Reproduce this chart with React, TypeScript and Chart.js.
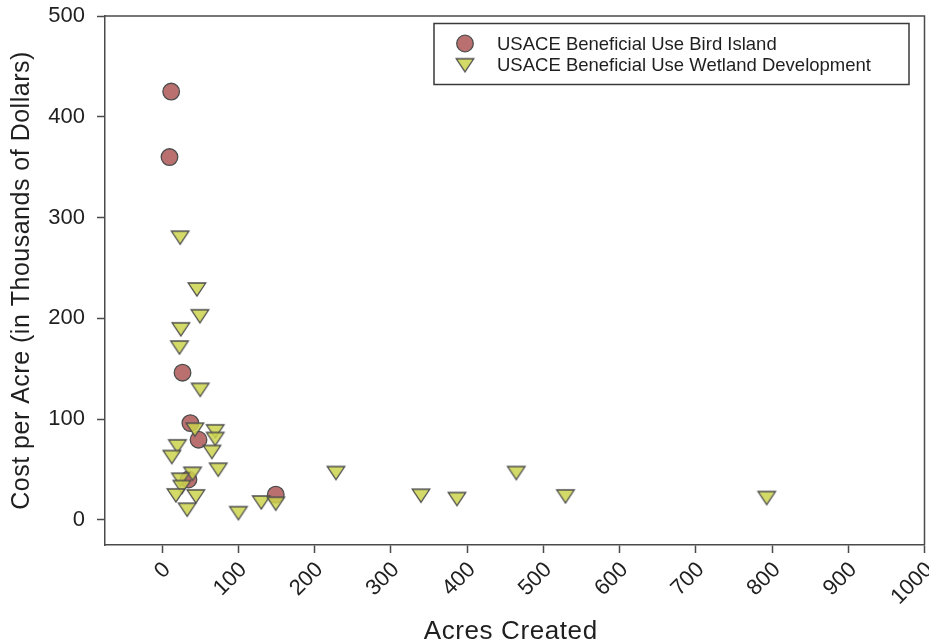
import { useEffect, useRef } from 'react';
import { Chart, registerables } from 'chart.js';

Chart.register(...registerables);

// Bird island placements: acres created vs. cost per acre (thousands of dollars)
const birdIslandAcres = [11.8, 9.6, 26.7, 37, 47.7, 34.5, 149];
const birdIslandCost = [425, 360, 146, 96, 79.5, 40, 25];

// Wetland development placements
const wetlandAcres = [
  23.6, 45.6, 49.5, 24.5, 22.7, 49.9, 42.9, 69.6, 69.6, 20, 12.7, 65.2, 73.5, 39.8,
  24, 25.8, 18, 44.2, 32.8, 100, 130, 149, 228, 339.5, 386.7, 464.5, 529, 793,
];
const wetlandCost = [
  280, 228.6, 202, 189, 171, 129, 89.5, 87.8, 80.2, 72.9, 62.3, 67.3, 49.7, 45.7,
  39.8, 32.5, 24.2, 23.2, 10, 6.6, 17.2, 16, 46.4, 23.9, 20.6, 46.4, 23.2, 21.6,
];

const xTickValues = [0, 100, 200, 300, 400, 500, 600, 700, 800, 900, 1000];
const yTickValues = [0, 100, 200, 300, 400, 500];

const seriesLabels = [
  'USACE Beneficial Use Bird Island',
  'USACE Beneficial Use Wetland Development',
];
const xAxisTitle = 'Acres Created';
const yAxisTitle = 'Cost per Acre (in Thousands of Dollars)';

const FONT = "'Liberation Sans', Arial, Helvetica, sans-serif";
const TEXT = '#1f1f1f';
const AXIS = '#4a4a4a';
const MARK_EDGE = '#4d4d4d';
const CIRCLE_FILL = 'rgba(178, 92, 92, 0.88)';
const TRI_FILL = 'rgba(204, 212, 76, 0.85)';

const NO_PADDING = () => ({ left: 0, top: 0, right: 0, bottom: 0 });

function makeDownTriangle(w: number, h: number, fill: string, stroke: string, lw: number) {
  const pad = 2;
  const c = document.createElement('canvas');
  c.width = Math.ceil(w + pad * 2);
  c.height = Math.ceil(h + pad * 2);
  const ctx = c.getContext('2d')!;
  const ox = (c.width - w) / 2;
  const oy = (c.height - h) / 2;
  ctx.beginPath();
  ctx.moveTo(ox, oy);
  ctx.lineTo(ox + w, oy);
  ctx.lineTo(ox + w / 2, oy + h);
  ctx.closePath();
  ctx.fillStyle = fill;
  ctx.fill();
  ctx.lineWidth = lw;
  ctx.lineJoin = 'miter';
  ctx.strokeStyle = stroke;
  ctx.stroke();
  return c;
}

export default function App() {
  const canvasRef = useRef<HTMLCanvasElement | null>(null);

  useEffect(() => {
    document.body.style.margin = '0';
    const canvas = canvasRef.current;
    if (!canvas) return;

    const triangle = makeDownTriangle(17.5, 13, TRI_FILL, MARK_EDGE, 1.3);

    const frame = {
      id: 'frame',
      afterDatasetsDraw(chart: any) {
        const { ctx, chartArea } = chart;
        ctx.save();
        ctx.strokeStyle = AXIS;
        ctx.lineWidth = 1.5;
        ctx.beginPath();
        ctx.moveTo(chartArea.left, chartArea.top);
        ctx.lineTo(chartArea.right, chartArea.top);
        ctx.lineTo(chartArea.right, chartArea.bottom);
        ctx.stroke();
        ctx.restore();
      },
    };

    const axisTitles = {
      id: 'axisTitles',
      afterDraw(chart: any) {
        const { ctx, chartArea } = chart;
        ctx.save();
        ctx.fillStyle = TEXT;
        ctx.textBaseline = 'alphabetic';
        ctx.textAlign = 'center';
        // horizontal title
        ctx.font = `26px ${FONT}`;
        (ctx as any).letterSpacing = '0.6px';
        ctx.fillText(xAxisTitle, (chartArea.left + chartArea.right) / 2 - 4, 638.5);
        // vertical title
        ctx.font = `25px ${FONT}`;
        (ctx as any).letterSpacing = '0.5px';
        ctx.translate(28.5, (chartArea.top + chartArea.bottom) / 2);
        ctx.rotate(-Math.PI / 2);
        ctx.fillText(yAxisTitle, 0, 0);
        ctx.restore();
      },
    };

    const legendBox = {
      id: 'legendBox',
      afterDraw(chart: any) {
        const { ctx, chartArea } = chart;
        const left = chartArea.right - 490.5;
        const top = chartArea.top + 7.5;
        const w = 475;
        const h = 61;
        ctx.save();
        ctx.fillStyle = '#ffffff';
        ctx.fillRect(left, top, w, h);
        ctx.strokeStyle = '#3a3a3a';
        ctx.lineWidth = 1.5;
        ctx.strokeRect(left, top, w, h);

        const mx = left + 31;
        const tx = left + 63;
        const row1 = top + 20;
        const row2 = top + 41.7;

        ctx.beginPath();
        ctx.arc(mx, row1, 8.3, 0, Math.PI * 2);
        ctx.fillStyle = CIRCLE_FILL;
        ctx.fill();
        ctx.lineWidth = 1.3;
        ctx.strokeStyle = MARK_EDGE;
        ctx.stroke();

        ctx.drawImage(triangle, mx - triangle.width / 2, row2 - triangle.height / 2);

        ctx.fillStyle = TEXT;
        ctx.font = `18.5px ${FONT}`;
        ctx.textAlign = 'left';
        ctx.textBaseline = 'middle';
        ctx.fillText(seriesLabels[0], tx, row1 + 1);
        ctx.fillText(seriesLabels[1], tx, row2 + 1);
        ctx.restore();
      },
    };

    const chart = new Chart(canvas, {
      type: 'scatter',
      data: {
        datasets: [
          {
            label: seriesLabels[0],
            data: birdIslandAcres.map((x, i) => ({ x, y: birdIslandCost[i] })),
            pointStyle: 'circle',
            pointRadius: 8.3,
            pointBorderWidth: 1.3,
            backgroundColor: CIRCLE_FILL,
            borderColor: MARK_EDGE,
            order: 2,
          },
          {
            label: seriesLabels[1],
            data: wetlandAcres.map((x, i) => ({ x, y: wetlandCost[i] })),
            pointStyle: triangle,
            pointRadius: 9,
            backgroundColor: TRI_FILL,
            borderColor: MARK_EDGE,
            order: 1,
          },
        ],
      },
      options: {
        responsive: false,
        animation: false,
        events: [],
        layout: { autoPadding: false, padding: { top: 16, right: 4.5, left: 0, bottom: 0 } },
        plugins: {
          legend: { display: false },
          tooltip: { enabled: false },
          title: { display: false },
        },
        scales: {
          x: {
            type: 'linear',
            position: 'bottom',
            min: -75,
            max: 1000,
            afterBuildTicks: (scale: any) => {
              scale.ticks = xTickValues.map((v) => ({ value: v }));
            },
            afterFit: (scale: any) => {
              scale.height = 99;
              scale.paddingLeft = 0;
              scale.paddingRight = 0;
              scale.getPadding = NO_PADDING;
            },
            grid: {
              display: true,
              drawOnChartArea: false,
              drawTicks: true,
              tickLength: 8,
              tickWidth: 1.5,
              tickColor: AXIS,
            },
            border: { display: true, color: AXIS, width: 1.5 },
            ticks: {
              autoSkip: false,
              minRotation: 45,
              maxRotation: 45,
              padding: 4,
              labelOffset: 5,
              color: TEXT,
              font: { family: FONT, size: 22 },
              callback: (v: any) => String(v),
            },
          },
          y: {
            type: 'linear',
            position: 'left',
            min: -25,
            max: 500,
            afterBuildTicks: (scale: any) => {
              scale.ticks = yTickValues.map((v) => ({ value: v }));
            },
            afterFit: (scale: any) => {
              scale.width = 105;
              scale.paddingTop = 0;
              scale.paddingBottom = 0;
              scale.getPadding = NO_PADDING;
            },
            grid: {
              display: true,
              drawOnChartArea: false,
              drawTicks: true,
              tickLength: 8,
              tickWidth: 1.5,
              tickColor: AXIS,
            },
            border: { display: true, color: AXIS, width: 1.5 },
            ticks: {
              padding: 12,
              color: TEXT,
              font: { family: FONT, size: 22 },
              callback: (v: any) => String(v),
            },
          },
        },
      },
      plugins: [frame, axisTitles, legendBox],
    });

    return () => chart.destroy();
  }, []);

  return (
    <div style={{ width: 929, height: 644, background: '#ffffff' }}>
      <canvas ref={canvasRef} width={929} height={644} style={{ display: 'block' }} />
    </div>
  );
}
